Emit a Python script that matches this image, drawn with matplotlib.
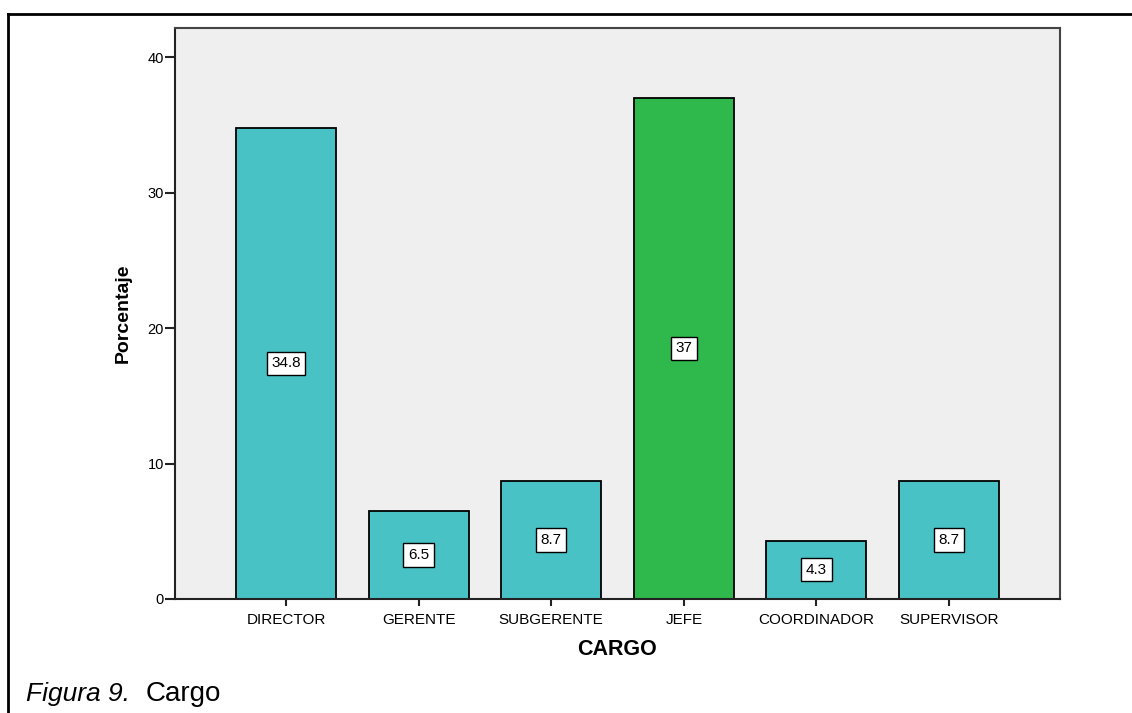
import matplotlib
matplotlib.use("Agg")
import matplotlib.pyplot as plt
from matplotlib.lines import Line2D

plt.rcParams['font.family'] = ['Liberation Sans', 'DejaVu Sans']

categories = ["DIRECTOR", "GERENTE", "SUBGERENTE", "JEFE", "COORDINADOR", "SUPERVISOR"]
percentages = [34.8, 6.5, 8.7, 37, 4.3, 8.7]
value_labels = ["34.8", "6.5", "8.7", "37", "4.3", "8.7"]
bar_colors = ["#49c2c6", "#49c2c6", "#49c2c6", "#2fb84b", "#49c2c6", "#49c2c6"]
y_ticks = [0, 10, 20, 30, 40]

W, H = 1132, 713
fig = plt.figure(figsize=(W / 100, H / 100), dpi=100)

# axes box in pixel coordinates
left, right, top, bottom = 175, 1060, 28, 599
ax = fig.add_axes([left / W, 1 - bottom / H, (right - left) / W, (bottom - top) / H])
ax.set_facecolor("#efefef")

x = list(range(len(categories)))
ax.bar(x, percentages, width=0.755, color=bar_colors, edgecolor="black", linewidth=1.3, zorder=2)

for xi, v, lab in zip(x, percentages, value_labels):
    ax.text(xi, v / 2, lab, ha="center", va="center", fontsize=11, zorder=3,
            bbox=dict(boxstyle="square,pad=0.3", facecolor="white", edgecolor="black", linewidth=1.0))

ax.set_xlim(-0.837, len(categories) - 1 + 0.837)
ax.set_ylim(0, 42.15)
ax.set_xticks(x)
ax.set_xticklabels(categories, fontsize=11)
ax.set_yticks(y_ticks)
ax.set_yticklabels([str(t) for t in y_ticks], fontsize=10.5)
ax.tick_params(axis="x", direction="out", length=5, width=1.5, pad=5, color="#222222")
ax.tick_params(axis="y", direction="out", length=7, width=1.5, pad=1, color="#222222")

for name in ["left", "bottom"]:
    ax.spines[name].set_linewidth(1.5)
    ax.spines[name].set_color("#222222")
for name in ["top", "right"]:
    ax.spines[name].set_linewidth(1.5)
    ax.spines[name].set_color("#444444")

ax.set_ylabel("Porcentaje", fontsize=14, fontweight="bold", labelpad=11)
ax.set_xlabel("CARGO", fontsize=15.5, fontweight="bold", labelpad=9)

# outer frame (top and left edges)
fig.add_artist(Line2D([8 / W, 1.0], [1 - 14 / H, 1 - 14 / H], color="black", linewidth=2,
                      transform=fig.transFigure))
fig.add_artist(Line2D([8 / W, 8 / W], [1 - 14 / H, 0.0], color="black", linewidth=2,
                      transform=fig.transFigure))

# caption
fig.text(26 / W, 1 - 701 / H, "Figura 9.", fontsize=19, fontstyle="italic", va="baseline")
fig.text(146 / W, 1 - 701 / H, "Cargo", fontsize=20, va="baseline")

fig.savefig("out.png", dpi=100)
